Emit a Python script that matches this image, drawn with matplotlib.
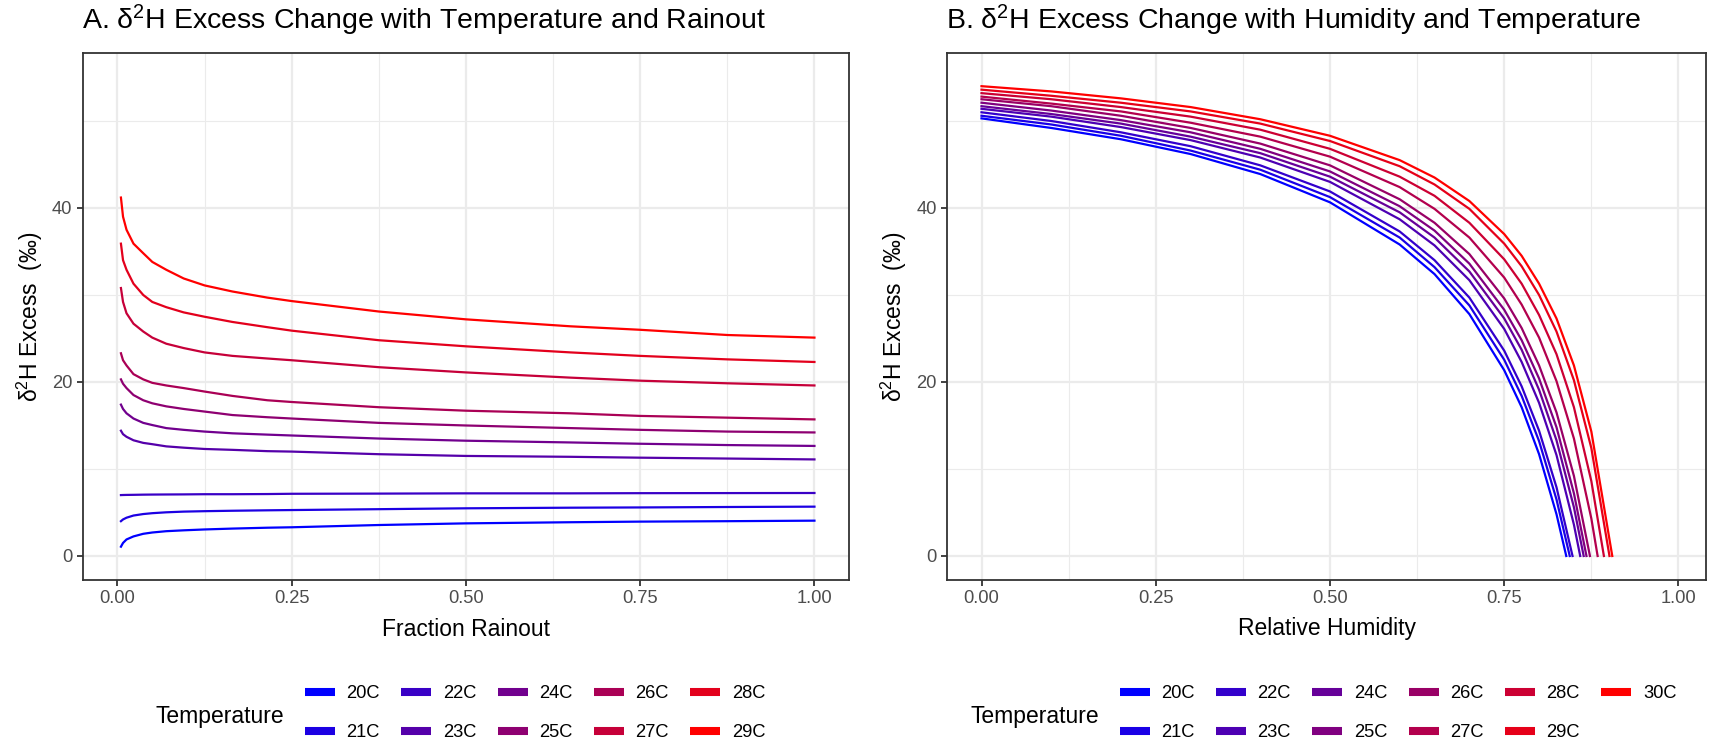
import numpy as np
import matplotlib
matplotlib.use("Agg")
import matplotlib.pyplot as plt
from matplotlib.lines import Line2D
from matplotlib.ticker import FormatStrFormatter

plt.rcParams.update({
    'font.family': ['Liberation Sans', 'DejaVu Sans'],
    'mathtext.fontset': 'custom',
    'mathtext.rm': 'Liberation Sans',
    'mathtext.default': 'regular',
})

# --- Panel A: d-excess vs fraction rainout ---
temps_a = ['20C', '21C', '22C', '23C', '24C', '25C', '26C', '27C', '28C', '29C']
rainout = [0.005, 0.008, 0.013, 0.023, 0.037, 0.05, 0.07, 0.095, 0.125, 0.165, 0.215,
           0.25, 0.375, 0.5, 0.65, 0.75, 0.875, 1.0]
dex_20 = [1.07, 1.5, 1.9, 2.25, 2.55, 2.7, 2.85, 2.95, 3.05, 3.15, 3.25, 3.3, 3.56, 3.75, 3.88, 3.95, 4.0, 4.06]
dex_21 = [4.0, 4.2, 4.4, 4.65, 4.82, 4.92, 5.02, 5.1, 5.15, 5.2, 5.25, 5.28, 5.38, 5.48, 5.55, 5.58, 5.63, 5.67]
dex_22 = [7.0, 7.01, 7.02, 7.03, 7.05, 7.06, 7.07, 7.08, 7.1, 7.1, 7.12, 7.15, 7.17, 7.2, 7.2, 7.22, 7.23, 7.24]
dex_23 = [14.4, 14.0, 13.7, 13.3, 13.0, 12.85, 12.6, 12.45, 12.3, 12.2, 12.05, 12.0, 11.7, 11.5, 11.4, 11.3, 11.2, 11.1]
dex_24 = [17.4, 16.9, 16.4, 15.8, 15.3, 15.05, 14.7, 14.5, 14.3, 14.1, 13.95, 13.85, 13.5, 13.25, 13.05, 12.9, 12.75, 12.65]
dex_25 = [20.3, 19.8, 19.3, 18.5, 17.9, 17.55, 17.2, 16.9, 16.6, 16.2, 15.95, 15.8, 15.3, 15.0, 14.7, 14.5, 14.3, 14.2]
dex_26 = [23.3, 22.5, 21.9, 20.9, 20.3, 19.9, 19.6, 19.3, 18.9, 18.4, 17.9, 17.7, 17.1, 16.7, 16.4, 16.1, 15.9, 15.7]
dex_27 = [30.8, 29.2, 27.9, 26.7, 25.8, 25.1, 24.4, 23.9, 23.4, 23.0, 22.7, 22.5, 21.7, 21.1, 20.5, 20.15, 19.85, 19.6]
dex_28 = [35.9, 34.0, 32.9, 31.3, 30.0, 29.2, 28.6, 28.0, 27.5, 26.9, 26.3, 25.9, 24.8, 24.1, 23.4, 23.0, 22.6, 22.3]
dex_29 = [41.2, 39.0, 37.5, 35.9, 34.8, 33.8, 32.9, 31.9, 31.1, 30.4, 29.7, 29.3, 28.1, 27.2, 26.4, 26.0, 25.4, 25.1]
series_a = [dex_20, dex_21, dex_22, dex_23, dex_24, dex_25, dex_26, dex_27, dex_28, dex_29]

# --- Panel B: d-excess vs relative humidity ---
temps_b = ['20C', '21C', '22C', '23C', '24C', '25C', '26C', '27C', '28C', '29C', '30C']
humidity = [0.0, 0.1, 0.2, 0.3, 0.4, 0.5, 0.6, 0.65, 0.7, 0.75, 0.775, 0.8, 0.825]
hdex_20 = [50.3, 49.2, 47.9, 46.2, 43.9, 40.65, 35.8, 32.4, 27.8, 21.35, 17.1, 11.7, 4.8]
hdex_21 = [50.6, 49.6, 48.3, 46.6, 44.4, 41.25, 36.6, 33.2, 28.8, 22.55, 18.4, 13.2, 6.5]
hdex_22 = [51.0, 50.0, 48.7, 47.1, 44.9, 41.9, 37.3, 34.0, 29.7, 23.6, 19.5, 14.4, 7.9]
hdex_23 = [51.4, 50.5, 49.3, 47.8, 45.8, 43.0, 38.7, 35.7, 31.7, 26.1, 22.3, 17.6, 11.6]
hdex_24 = [51.7, 50.8, 49.7, 48.2, 46.3, 43.6, 39.5, 36.6, 32.7, 27.3, 23.7, 19.1, 13.3]
hdex_25 = [52.1, 51.2, 50.1, 48.7, 46.8, 44.2, 40.2, 37.4, 33.6, 28.3, 24.8, 20.4, 14.8]
hdex_26 = [52.5, 51.7, 50.6, 49.2, 47.4, 44.9, 41.0, 38.3, 34.7, 29.6, 26.2, 21.9, 16.5]
hdex_27 = [52.8, 52.0, 51.1, 49.8, 48.2, 45.9, 42.4, 39.9, 36.6, 32.0, 28.9, 25.1, 20.1]
hdex_28 = [53.2, 52.5, 51.6, 50.5, 49.0, 46.8, 43.6, 41.4, 38.3, 34.1, 31.3, 27.7, 23.2]
hdex_29 = [53.6, 52.9, 52.1, 51.1, 49.7, 47.7, 44.8, 42.7, 39.9, 35.9, 33.3, 30.0, 25.8]
hdex_30 = [54.0, 53.4, 52.6, 51.6, 50.2, 48.3, 45.5, 43.5, 40.8, 37.0, 34.5, 31.3, 27.3]
series_b = [hdex_20, hdex_21, hdex_22, hdex_23, hdex_24, hdex_25, hdex_26,
            hdex_27, hdex_28, hdex_29, hdex_30]
# steep tails down to zero, per curve
tail_x = [[0.839], [0.844], [0.848], [0.85, 0.859], [0.85, 0.864], [0.85, 0.868],
          [0.85, 0.873], [0.85, 0.875, 0.884], [0.85, 0.875, 0.893],
          [0.85, 0.875, 0.901], [0.85, 0.875, 0.905]]
tail_y = [[0.0], [0.0], [0.0], [3.6, 0.0], [5.6, 0.0], [7.2, 0.0],
          [9.2, 0.0], [13.5, 4.3, 0.0], [17.1, 8.6, 0.0],
          [20.2, 12.4, 0.0], [21.9, 14.3, 0.0]]


def blue_red(n):
    """Linear blue -> red ramp, like colorRampPalette(c('blue','red'))."""
    return [(i / (n - 1), 0.0, 1 - i / (n - 1)) for i in range(n)]


W, H = 1713, 746
fig = plt.figure(figsize=(W / 100, H / 100), dpi=100)

top_px, bot_px = 53.3, 580.0
ax_a = fig.add_axes([82.6 / W, 1 - bot_px / H, (849.3 - 82.6) / W, (bot_px - top_px) / H])
ax_b = fig.add_axes([947.0 / W, 1 - bot_px / H, (1706.0 - 947.0) / W, (bot_px - top_px) / H])

grid_c = '#EBEBEB'
dark = '#333333'
ylab = r'δ$^{2}$H Excess  (‰)'


def style_axis(ax, xlabel, ylab_x, xlim):
    ax.set_xlim(*xlim)
    ax.set_ylim(-2.76, 57.78)
    ax.set_xticks([0, 0.25, 0.5, 0.75, 1.0])
    ax.set_xticks([0.125, 0.375, 0.625, 0.875], minor=True)
    ax.set_yticks([0, 20, 40])
    ax.set_yticks([10, 30, 50], minor=True)
    ax.xaxis.set_major_formatter(FormatStrFormatter('%.2f'))
    ax.grid(which='major', color=grid_c, lw=1.6)
    ax.grid(which='minor', color=grid_c, lw=0.8)
    ax.set_axisbelow(True)
    ax.tick_params(which='major', length=4.1, width=1.3, color=dark,
                   labelsize=13.2, labelcolor='#4D4D4D', pad=3.3)
    ax.tick_params(which='minor', length=0)
    for sp in ax.spines.values():
        sp.set_color(dark)
        sp.set_linewidth(1.3)
    ax.set_xlabel(xlabel, fontsize=16.5)
    ax.xaxis.set_label_coords(0.5, (bot_px - 629) / (bot_px - top_px))
    ax.xaxis.label.set_va('center')
    ax.set_ylabel(ylab, fontsize=16.5)
    ax.yaxis.set_label_coords(ylab_x, 0.5)
    ax.yaxis.label.set_va('center')


cols_a = blue_red(len(temps_a))
for vals, c in zip(series_a, cols_a):
    ax_a.plot(rainout, vals, color=c, lw=1.6)
style_axis(ax_a, 'Fraction Rainout', -0.069, (-0.05, 1.05))

cols_b = blue_red(len(temps_b))
for vals, tx, ty, c in zip(series_b, tail_x, tail_y, cols_b):
    ax_b.plot(humidity + tx, vals + ty, color=c, lw=1.6)
style_axis(ax_b, 'Relative Humidity', -0.07, (-0.0495, 1.0395))

fig.text(82 / W, 1 - 20 / H, r'A. δ$^{2}$H Excess Change with Temperature and Rainout',
         fontsize=20.5, ha='left', va='center')
fig.text(946 / W, 1 - 20 / H, r'B. δ$^{2}$H Excess Change with Humidity and Temperature',
         fontsize=20.5, ha='left', va='center')


# legends: two rows of thick keys, title on the left
def add_legend(temps, cols, ncol, title_x, key_x):
    handles = [Line2D([0], [0], color=c, lw=5.8, solid_capstyle='butt') for c in cols]
    fig.legend(handles, temps, ncol=ncol, loc='upper left',
               bbox_to_anchor=(key_x / W, 1 - 685 / H), frameon=False,
               fontsize=13.2, handlelength=1.63, handletextpad=0.63,
               columnspacing=1.17, labelspacing=1.2, borderpad=0,
               borderaxespad=0)
    fig.text(title_x / W, 1 - 716 / H, 'Temperature', fontsize=16.5,
             ha='left', va='center')


add_legend(temps_a, cols_a, 5, 155.6, 305)
add_legend(temps_b, cols_b, 6, 970, 1119.8)

fig.savefig('out.png', dpi=100)
